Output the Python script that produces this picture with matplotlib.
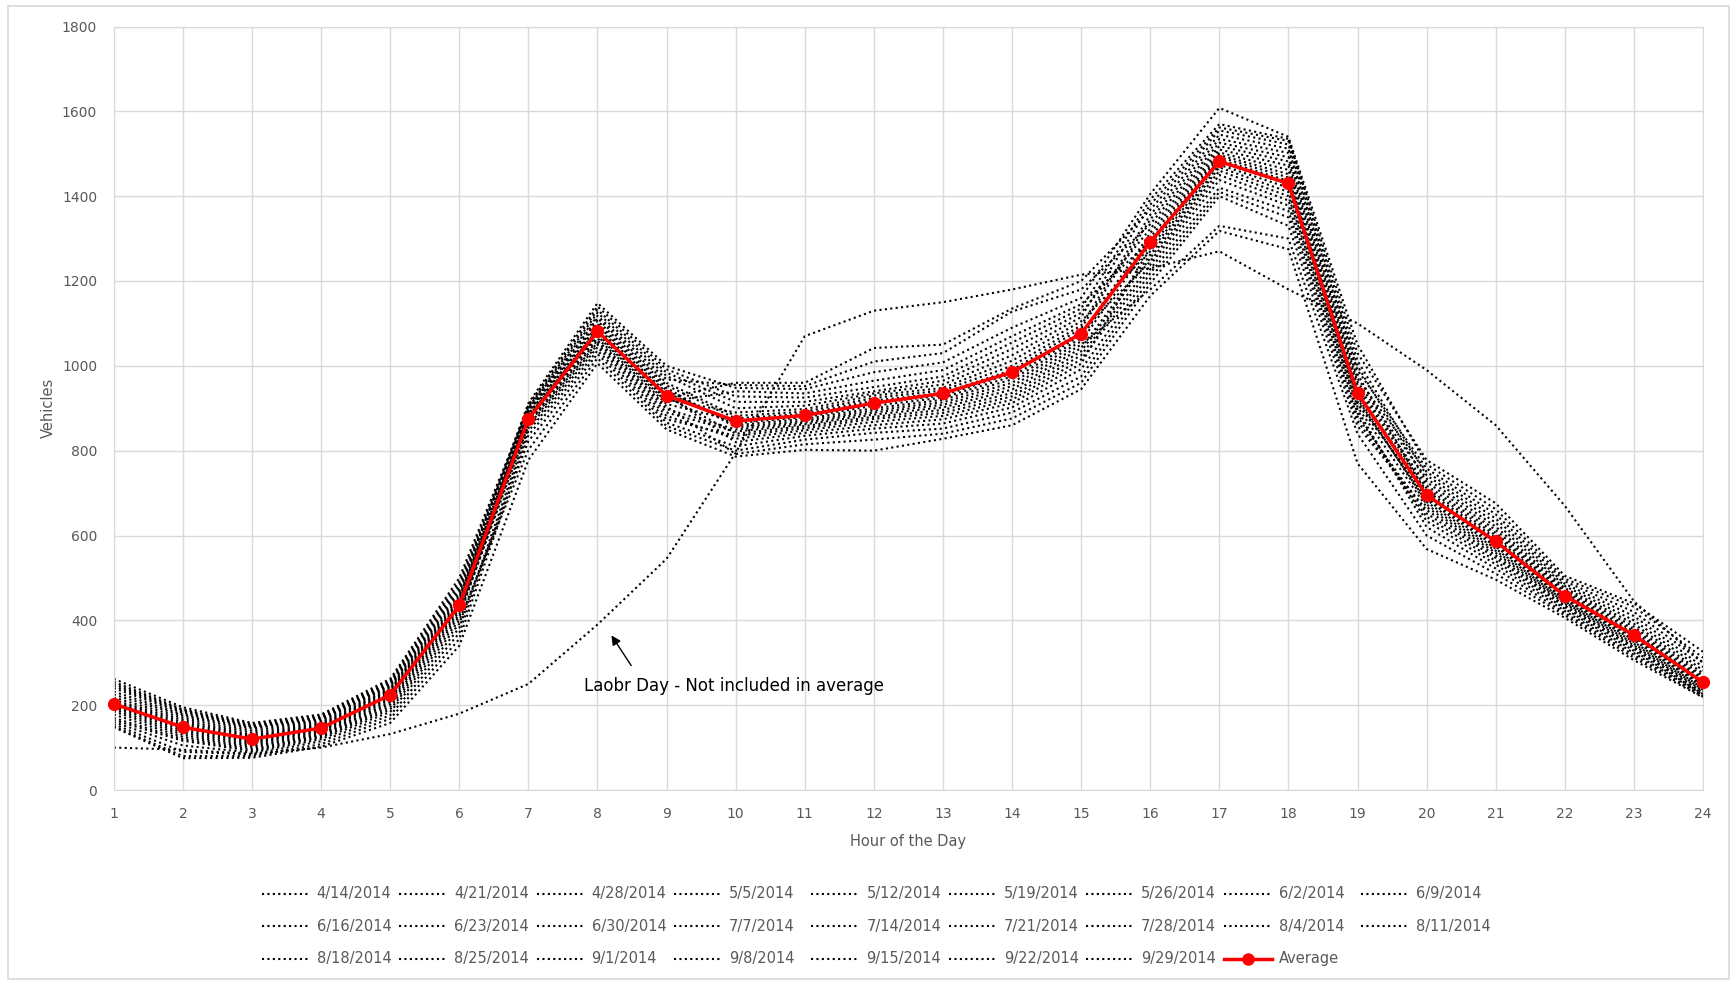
import matplotlib
matplotlib.use("Agg")
import matplotlib.pyplot as plt
from matplotlib.lines import Line2D
from matplotlib.patches import Rectangle

hours = list(range(1, 25))

# vehicles per hour, one list per Monday
d0414 = [262, 195, 158, 178, 262, 500, 902, 1125, 976, 900, 906, 935, 956, 1025, 1115, 1380, 1562, 1530, 1012, 742, 630, 481, 400, 282]
d0421 = [232, 178, 145, 165, 247, 466, 912, 1148, 1000, 948, 945, 985, 1008, 1090, 1160, 1405, 1608, 1540, 1050, 768, 662, 498, 432, 312]
d0428 = [205, 155, 124, 150, 230, 442, 887, 1095, 942, 860, 875, 900, 920, 968, 1065, 1303, 1503, 1462, 946, 711, 600, 464, 374, 259]
d0505 = [250, 188, 152, 172, 255, 485, 893, 1106, 954, 876, 887, 918, 936, 990, 1088, 1345, 1535, 1502, 980, 699, 589, 457, 365, 251]
d0512 = [190, 135, 108, 137, 212, 420, 876, 1078, 924, 960, 960, 1042, 1050, 1135, 1200, 1368, 1555, 1522, 1000, 726, 613, 472, 385, 269]
d0519 = [212, 165, 130, 155, 237, 450, 908, 1140, 992, 928, 925, 950, 975, 1055, 1135, 1392, 1570, 1535, 1030, 778, 676, 505, 440, 326]
d0526 = [160, 105, 88, 120, 184, 382, 853, 1050, 890, 845, 862, 885, 902, 944, 1042, 1262, 1474, 1420, 916, 684, 574, 448, 353, 242]
d0602 = [245, 185, 150, 170, 252, 478, 881, 1086, 932, 820, 842, 860, 874, 912, 1005, 1278, 1486, 1436, 928, 673, 564, 442, 345, 236]
d0609 = [200, 148, 118, 145, 224, 434, 899, 1118, 968, 955, 952, 1010, 1030, 1128, 1180, 1334, 1526, 1492, 970, 750, 640, 486, 410, 290]
d0616 = [170, 120, 96, 127, 196, 400, 802, 1018, 858, 800, 826, 842, 852, 890, 975, 1206, 1410, 1350, 870, 644, 540, 427, 328, 226]
d0623 = [225, 175, 140, 162, 244, 460, 884, 1090, 937, 865, 879, 906, 925, 975, 1072, 1313, 1510, 1472, 954, 718, 606, 468, 379, 264]
d0630 = [150, 80, 80, 108, 168, 356, 836, 1036, 874, 835, 853, 875, 889, 928, 1025, 1238, 1450, 1390, 896, 620, 522, 417, 318, 222]
d0707 = [255, 190, 155, 175, 258, 492, 896, 1112, 960, 882, 892, 924, 942, 1000, 1095, 1356, 1545, 1512, 990, 758, 650, 492, 420, 300]
d0714 = [208, 160, 127, 152, 234, 446, 870, 1070, 915, 940, 935, 965, 990, 1070, 1145, 1294, 1497, 1452, 940, 689, 579, 451, 357, 245]
d0721 = [195, 140, 112, 140, 216, 425, 863, 1060, 904, 792, 815, 826, 840, 876, 960, 1194, 1400, 1330, 858, 660, 553, 435, 337, 230]
d0728 = [148, 75, 76, 102, 158, 340, 778, 1006, 850, 786, 802, 800, 828, 860, 945, 1165, 1318, 1275, 770, 568, 496, 406, 306, 218]
d0804 = [240, 182, 148, 168, 250, 472, 905, 1132, 984, 915, 915, 940, 965, 1040, 1125, 1323, 1518, 1482, 962, 734, 621, 476, 392, 275]
d0811 = [202, 150, 120, 147, 227, 438, 890, 1100, 948, 855, 870, 895, 914, 960, 1058, 1286, 1492, 1444, 934, 705, 594, 460, 369, 255]
d0818 = [178, 125, 100, 130, 202, 408, 873, 1074, 920, 890, 898, 930, 948, 1012, 1105, 1270, 1480, 1428, 922, 679, 569, 445, 349, 239]
d0825 = [218, 170, 135, 158, 240, 455, 879, 1082, 928, 840, 858, 880, 896, 936, 1034, 1254, 1468, 1410, 910, 694, 584, 454, 361, 248]
d0901 = [100, 95, 85, 100, 132, 180, 250, 390, 545, 795, 1070, 1130, 1150, 1180, 1215, 1230, 1270, 1180, 1100, 990, 860, 670, 445, 300]
d0908 = [165, 116, 92, 124, 190, 392, 822, 1028, 866, 810, 835, 852, 864, 902, 992, 1218, 1420, 1365, 880, 652, 547, 431, 333, 228]
d0915 = [198, 145, 115, 142, 220, 430, 867, 1065, 910, 870, 883, 912, 930, 982, 1080, 1246, 1460, 1400, 903, 667, 559, 439, 341, 233]
d0922 = [155, 90, 84, 115, 176, 370, 846, 1044, 882, 828, 848, 868, 882, 920, 1015, 1228, 1438, 1378, 888, 634, 532, 422, 323, 224]
d0929 = [185, 130, 104, 133, 207, 414, 859, 1055, 898, 850, 866, 890, 908, 952, 1050, 1180, 1330, 1300, 840, 600, 510, 412, 312, 220]

average = [203, 148, 120, 146, 224, 435, 875, 1081, 930, 870, 883, 912, 935, 985, 1076, 1292, 1482, 1430, 935, 695, 586, 458, 365, 254]

dates = ["4/14/2014", "4/21/2014", "4/28/2014", "5/5/2014", "5/12/2014", "5/19/2014", "5/26/2014",
         "6/2/2014", "6/9/2014", "6/16/2014", "6/23/2014", "6/30/2014", "7/7/2014", "7/14/2014",
         "7/21/2014", "7/28/2014", "8/4/2014", "8/11/2014", "8/18/2014", "8/25/2014", "9/1/2014",
         "9/8/2014", "9/15/2014", "9/22/2014", "9/29/2014"]
series = [d0414, d0421, d0428, d0505, d0512, d0519, d0526, d0602, d0609, d0616, d0623, d0630, d0707,
          d0714, d0721, d0728, d0804, d0811, d0818, d0825, d0901, d0908, d0915, d0922, d0929]

W, H = 1732, 982
grey = "#595959"
grid = "#d9d9d9"
dots = (0, (1, 1.6))

fig = plt.figure(figsize=(W / 100, H / 100), dpi=100)
fig.add_artist(Rectangle((8 / W, 1 - 979 / H), 1721 / W, 973 / H, transform=fig.transFigure,
                         fill=False, edgecolor=grid, lw=1.2))
ax = fig.add_axes([113.8 / W, 1 - 790 / H, 1589.2 / W, 763.5 / H])

for vals in series:
    ax.plot(hours, vals, color="black", lw=1.5, linestyle=dots)
ax.plot(hours, average, color="#ff0000", lw=2.5, marker="o", markersize=8.5, clip_on=False, zorder=5)

ax.set_xlim(1, 24)
ax.set_ylim(0, 1800)
ax.set_xticks(hours)
ax.set_yticks(range(0, 1801, 200))
ax.grid(True, color=grid, lw=1)
ax.set_axisbelow(True)
for s in ax.spines.values():
    s.set_color(grid)
ax.tick_params(length=0, labelsize=10, labelcolor=grey)
ax.tick_params(axis="y", pad=12)
ax.tick_params(axis="x", pad=12)
ax.set_ylabel("Vehicles", fontsize=10.5, color=grey)
ax.set_xlabel("Hour of the Day", fontsize=10.5, color=grey)
ax.yaxis.set_label_coords(-0.0364, 0.5)
ax.xaxis.set_label_coords(0.5, -0.0577)

ax.annotate("", xy=(8.18, 370), xytext=(8.51, 288),
            arrowprops=dict(arrowstyle="-|>", color="black", lw=1, mutation_scale=14))
ax.text(7.81, 245, "Laobr Day - Not included in average", fontsize=12, color="black", va="center", ha="left")

# legend laid out like the spreadsheet one: 9 equal columns, row by row
labels = dates + ["Average"]
for i, lab in enumerate(labels):
    row, col = divmod(i, 9)
    x0 = (261.8 + col * 137.4) / W
    y = 1 - (893.6 + row * 32.6) / H
    if lab == "Average":
        fig.add_artist(Line2D([x0, x0 + 48 / W], [y, y], transform=fig.transFigure,
                              color="#ff0000", lw=2.5))
        fig.add_artist(Line2D([x0 + 24 / W], [y], transform=fig.transFigure,
                              color="#ff0000", marker="o", markersize=8))
    else:
        fig.add_artist(Line2D([x0, x0 + 48 / W], [y, y], transform=fig.transFigure,
                              color="black", lw=1.5, linestyle=dots))
    fig.text(x0 + 55 / W, y, lab, fontsize=10.5, color=grey, va="center", ha="left")

plt.savefig("out.png", dpi=100)
